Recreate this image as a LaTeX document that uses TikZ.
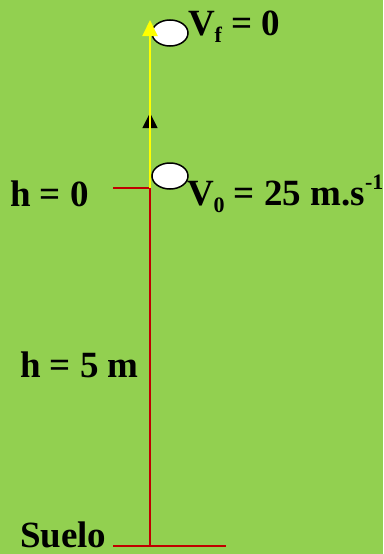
\documentclass[tikz,border=0pt]{standalone}
\usepackage{fontspec}
\setmainfont{Liberation Serif}
\usetikzlibrary{arrows.meta,shapes.geometric}
\definecolor{bggreen}{HTML}{92D050}
\definecolor{linered}{HTML}{C00000}
\definecolor{lineyellow}{HTML}{FFFF00}
\newcommand{\bigtxt}{\fontsize{37}{40}\selectfont\bfseries}
\newcommand{\subtxt}[1]{\raisebox{-0.2em}{\fontsize{22}{22}\selectfont\bfseries #1}}
\newcommand{\suptxt}[1]{\raisebox{0.42em}{\fontsize{22}{22}\selectfont\bfseries #1}}
\begin{document}
\begin{tikzpicture}[x=1pt,y=-1pt,
  lbl/.style={anchor=base west,inner sep=0pt,outer sep=0pt,font=\bigtxt,text=black},
  redline/.style={draw=linered,line width=1.8pt},
  yelline/.style={draw=lineyellow,line width=2pt},
  ball/.style={ellipse,draw=black,fill=white,line width=1.5pt,minimum width=36pt,minimum height=26pt,inner sep=0pt}]
\fill[bggreen] (0,0) rectangle (383,554);
\useasboundingbox (0,0) rectangle (383,554);
% coordinates
\coordinate (top) at (150,20);
\coordinate (launch) at (150,188);
\coordinate (ground) at (150,546);
\coordinate (tick0) at (113,188);
\coordinate (gl) at (113,546);
\coordinate (gr) at (226,546);
\coordinate (arrbase) at (150,132);
\coordinate (arrtip) at (150,113);
% red lines
\draw[redline] (tick0) -- (launch);
\draw[redline] (launch) -- (ground);
\draw[redline] (gl) -- (gr);
% black arrowhead
\draw[black,line width=0.5pt,-{Triangle[width=15pt,length=15pt]}] (arrbase) -- (arrtip);
% balls
\node[ball] (ball0) at (170,176) {};
\node[ball] (ballf) at (170,33) {};
% yellow line with arrow
\draw[yelline,-{Triangle[width=15pt,length=16pt,fill=lineyellow]}] (launch) -- (top);
% labels
\node[lbl] (vf) at (188,35) {V\subtxt{f} = 0};
\node[lbl] (h0) at (10,206) {h = 0};
\node[lbl] (v0) at (187,205) {V\subtxt{0} = 25 m.s\suptxt{-1}};
\node[lbl] (h5) at (20,377) {h = 5 m};
\node[lbl] (suelo) at (20,547) {Suelo};
\end{tikzpicture}
\end{document}
